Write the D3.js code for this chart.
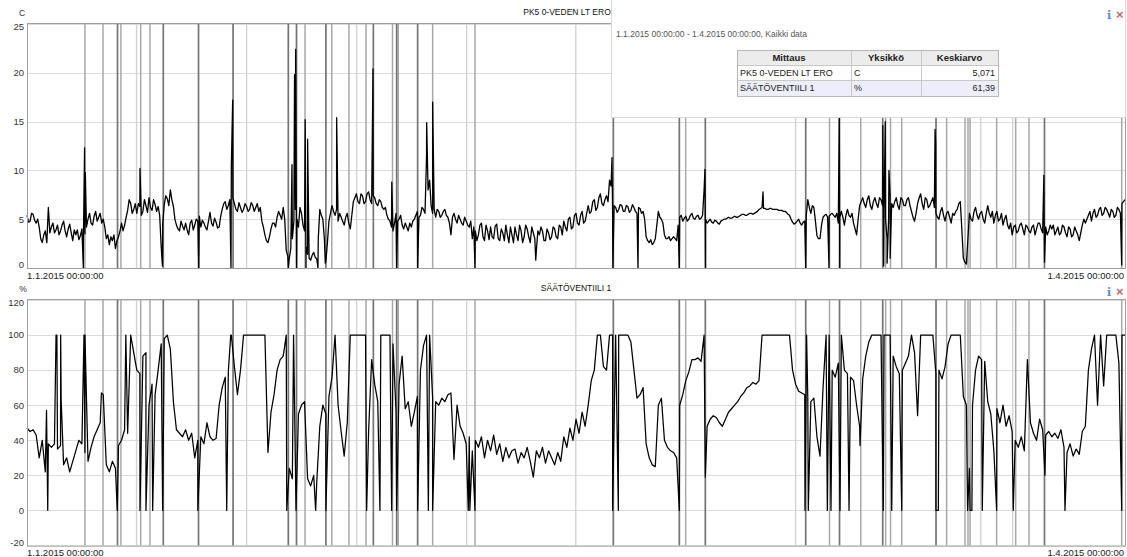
<!DOCTYPE html>
<html><head><meta charset="utf-8">
<script src="https://cdn.jsdelivr.net/npm/d3@7"></script>
<style>body{margin:0;background:#fff;} svg{display:block;font-family:Arial,"Liberation Sans",sans-serif;}</style>
</head><body><svg id="c" width="1127" height="557"></svg>
<script>
// ---------- DATA ----------
const stepDays = 0.25; // samples every 6 hours starting 1.1.2015 00:00
const tempValues = [
5.4,4.8,5.5,4.6, 4.2,2.6,3.8,6.2, 4.2,3.6,4.4,3.8, 4.8,3.2,4.5,2.8, 3.4,2.9,4.0,3.5,
5.0,4.6,5.3,4.8, 5.6,5.0,3.0,2.4, 2.8,2.0,3.2,4.6, 4.4,5.9,6.6,6.0, 5.6,6.3,5.8,6.4,
7.2,5.9,6.5,6.3, 2.2,6.5,7.1,8.0, 6.3,4.4,3.8,4.3, 4.6,3.4,4.9,4.4, 4.8,4.2,4.6,3.9,
5.7,4.3,4.7,4.2, 6.0,6.8,6.4,10.5, 6.6,5.8,6.2,6.0, 6.3,6.0,6.4,6.2, 5.8,4.8,3.4,2.6,
4.0,4.6,5.2,5.4, 6.2,1.8,1.0,3.0, 6.0,4.2,5.6,3.8, 1.4,0.8,1.6,0.9, 6.0,5.0,0.7,4.8,
6.4,5.4,4.8,5.2, 4.4,5.6,4.0,6.8, 7.6,6.6,7.4,6.8, 7.8,6.6,7.2,6.4, 6.8,6.0,5.4,4.8,
3.8,5.6,5.0,4.4, 4.6,3.8,4.2,5.0, 5.8,5.4,6.0,11.5, 9.0,5.6,5.2,5.8, 5.4,6.0,5.2,3.4,
5.6,4.6,5.0,4.4, 4.8,4.2,3.0,3.8, 3.4,4.6,2.8,3.8, 4.2,3.0,4.5,2.8, 3.6,4.4,2.6,3.4,
4.2,2.8,3.8,3.2, 4.0,2.6,3.6,1.8, 3.4,3.8,2.8,3.6, 3.2,4.0,3.0,4.2, 4.8,3.8,5.2,4.2,
5.6,4.4,5.8,4.8, 6.4,5.8,7.0,6.2, 7.6,6.4,7.4,9.0, 5.6,6.2,6.0,6.4, 5.8,6.3,5.9,6.2,
5.6,6.1,5.8,3.2, 2.6,2.4,3.0,5.8, 5.0,3.4,3.0,2.8, 3.2,2.8,5.2,4.8, 5.3,5.0,5.6,5.0,
5.4,5.1,8.0,4.6, 5.0,4.6,4.8,4.5, 4.9,5.0,5.2,5.1, 5.3,5.2,5.4,5.5, 5.4,5.6,5.5,5.7,
6.0,6.2,6.1,6.0, 6.1,6.0,6.0,5.9, 5.8,5.7,5.4,4.7, 4.6,5.0,4.4,4.8, 7.0,5.6,6.2,3.3,
3.0,5.2,5.5,5.3, 5.6,5.2,4.6,5.8, 4.4,6.0,5.2,4.6, 3.4,6.4,7.2,6.2, 7.4,6.0,7.2,6.2,
7.0,6.0,3.0,7.4, 6.2,7.2,6.0,7.0, 6.4,7.2,5.8,4.8, 6.6,7.6,6.0,7.0, 6.4,7.2,5.6,5.0,
6.2,4.8,5.8,4.6, 5.4,6.0,6.8,1.0, 0.4,5.6,4.8,6.2, 5.0,5.8,4.6,6.4, 5.2,4.6,5.8,5.0,
4.4,5.4,4.0,3.4, 4.4,3.8,4.6,3.4, 4.2,3.6,4.4,4.0, 4.6,3.6,4.2,3.8, 4.0,3.4,4.2,3.6,
4.2,3.2,4.0,3.4, 3.8,2.8,4.4,4.6, 5.4,4.8,6.0,5.4, 6.2,5.6,6.0,5.2, 5.8,5.4,6.0,6.6,
7.0];
// readings half-way between the 6-hour samples above (at +3 h)
const tempValuesMid = [
4.7,5.6,4.9,5.0, 3.0,3.4,2.6,3.6, 4.6,3.9,3.4,4.4, 3.8,4.0,3.6,3.9, 3.9,3.3,3.0,4.2,
5.6,4.4,5.8,5.2, 4.6,4.2,3.4,3.2, 3.4,2.8,3.8,3.8, 5.2,7.0,5.6,6.6, 6.6,5.4,7.0,5.7,
6.2,7.0,5.8,5.4, 4.5,7.4,6.4,7.0, 5.0,4.0,4.8,3.9, 3.9,4.6,3.9,5.0, 5.3,4.9,4.2,4.8,
4.6,5.1,4.1,5.3, 6.6,6.0,7.0,7.2, 6.0,6.7,5.7,6.6, 5.8,6.7,5.8,6.6, 6.2,4.2,2.8,3.2,
4.6,4.2,5.8,5.0, 5.0,1.2,2.0,4.8, 5.0,6.2,4.4,2.2, 1.0,1.3,1.1,3.0, 5.4,3.0,2.6,5.6,
5.8,6.0,5.6,4.8, 5.2,4.6,5.4,7.2, 6.8,7.6,6.6,7.6, 7.0,7.4,6.6,7.0, 6.2,6.2,5.0,4.2,
4.6,4.8,5.4,4.0, 4.2,4.6,4.8,5.4, 5.2,6.2,5.6,8.0, 6.4,6.0,6.0,5.2, 5.8,5.4,4.6,5.2,
5.0,5.4,4.6,5.2, 4.4,4.8,4.2,2.8, 4.4,3.2,4.4,2.9, 3.2,4.3,3.0,4.0, 2.8,3.4,4.2,2.6,
3.4,4.4,2.6,4.4, 3.2,4.2,3.0,3.8, 4.2,2.8,4.0,2.9, 4.2,3.2,4.4,3.4, 4.2,5.0,4.0,5.4,
4.6,5.4,4.6,5.6, 5.6,6.8,5.9,7.2, 6.6,7.0,6.8,8.4, 6.4,5.7,6.5,5.8, 6.4,5.7,6.5,5.8,
6.2,5.6,5.0,2.8, 2.9,2.6,4.4,5.2, 4.6,3.0,3.2,3.0, 3.0,4.4,5.4,5.1, 4.8,5.4,5.1,5.3,
5.0,5.4,5.0,4.8, 4.7,4.9,4.6,4.8, 5.0,5.1,5.1,5.2, 5.2,5.3,5.5,5.4, 5.5,5.6,5.6,5.8,
6.1,6.1,6.0,6.1, 6.0,6.0,5.9,5.9, 5.8,5.5,5.0,4.5, 4.8,4.6,4.7,5.4, 6.2,6.4,4.8,3.0,
4.4,5.4,5.2,5.5, 5.4,5.6,5.2,5.2, 5.4,5.4,5.6,4.0, 5.0,6.8,6.6,7.0, 6.4,6.8,6.6,7.2,
6.4,5.0,5.0,6.6, 6.8,6.4,7.2,6.4, 7.0,6.4,5.2,5.6, 7.2,6.6,7.2,6.2, 6.8,6.2,5.2,5.8,
5.4,5.6,5.2,5.6, 5.8,6.6,4.0,0.6, 3.0,5.0,5.8,5.4, 5.6,5.0,5.6,5.6, 5.8,5.4,4.8,5.6,
5.0,4.4,4.6,4.2, 3.6,4.4,4.0,4.4, 3.8,4.2,3.4,4.6, 4.0,4.4,3.4,4.4, 4.4,3.8,3.4,4.4,
3.6,4.2,3.2,4.2, 3.4,3.6,5.0,5.0, 5.8,5.6,5.2,6.0, 5.4,6.2,5.6,6.0, 5.2,6.2,5.6,6.8];
const tempSpikeDays = [4.62,4.72,4.78,9.26,11.1,14.08,16.72,16.86,21.42,21.72,21.93,22.02,22.1,
22.8,22.87,23.0,23.85,24.45,25.38,28.36,29.9,30.3,32.02,32.76,33.25,36.72,41.7,47.95,48.02,
50.08,53.47,55.57,55.62,60.33,63.83,65.74,66.58,66.62,70.15,70.22,70.35,70.5,70.65,70.75,
74.43,74.48,83.35,83.4,89.73];
const tempSpikeValues = [0,12.3,9.8,10.2,0.2,0,0,17.2,0,10.6,19.8,22.4,0,
15.2,0,13.2,0,0.5,15.4,20.4,8.8,0,0,14.9,17,0,0.8,11.3,0,
0,0,10.1,0,7.8,0,0,15.5,0,14.6,0.2,15.0,0.5,10,1,
14.2,12.8,9.5,0.6,0.3];

const valveValues = [
47,45,46,43, 30,40,22,38, 36,38,35,37, 26,30,22,28, 34,40,38,33,
28,36,42,46, 50,66,26,22, 28,24,37,40, 46,44,100,90, 80,78,88,90,
60,72,66,80, 95,98,100,92, 62,46,44,42, 46,40,44,30, 40,42,38,50,
42,40,41,60, 70,76,79,100, 82,66,80,100, 100,100,100,100, 100,100,100,33,
56,66,80,86, 88,100,24,18, 26,55,60,62, 18,14,20,16, 48,60,55,65,
76,100,60,45, 31,50,100,100, 100,100,100,100, 45,86,72,62, 100,100,100,100,
95,56,72,88, 58,62,48,56, 65,80,94,100, 100,64,62,60, 64,62,66,67,
29,60,48,44, 38,42,34,40, 36,42,30,40, 34,43,32,38, 28,36,30,34,
35,27,33,30, 36,28,19,34, 30,36,27,34, 30,26,33,28, 42,36,47,40,
52,44,56,48, 60,74,80,100, 100,82,80,100, 100,100,100,100, 100,100,96,80,
64,66,70,38, 30,26,25,60, 64,40,36,34, 33,30,60,66, 74,79,86,86,
87,85,100,48, 52,54,53,50, 48,52,56,58, 60,62,65,67, 70,71,73,72,
74,100,100,100, 100,100,100,100, 100,100,100,80, 72,68,67,66, 64,62,64,42,
31,70,100,100, 80,76,84,100, 80,78,76,74, 60,48,75,88, 96,100,100,100,
100,100,100,100, 88,82,78,80, 84,88,100,90, 54,100,100,100, 100,100,78,80,
75,82,95,100, 100,100,100,65, 60,24,60,80, 88,86,85,62, 55,34,58,50,
60,48,54,45, 40,36,42,34, 86,50,44,40, 52,46,43,45, 42,44,41,46,
36,33,38,31, 35,32,45,48, 80,92,100,60, 100,71,100,100, 100,100,84,100,
100];
const valveSpikeDays = [1.6,1.7,2.38,2.45,2.76,2.8,4.67,4.75,6.1,7.4,8.1,9.26,9.75,10.3,11.12,14.0,
16.37,16.7,21.29,21.85,22.05,23.66,24.5,25.25,27.84,28.93,29.89,30.3,32.02,32.9,33.25,
36.17,36.3,36.72,48.0,48.47,53.47,55.6,63.77,63.9,64.04,65.6,65.9,66.64,67.38,68.28,
70.19,70.88,71.7,74.5,74.7,77.1,77.3,77.45,78.3,79.48,80.84,83.44,85.08,89.73];
const valveSpikeValues = [57,0,100,100,100,63,100,100,67,0,100,0,0,0,0,0,
0,100,0,100,0,0,0,100,0,0,0,0,0,0,0,
0,0,0,0,0,0,19,0,100,0,0,0,0,0,37,
0,0,0,0,0,0,0,0,0,0,0,20,0,0];

// event markers (days since 1.1.2015), grouped by shade category
const markerDaysDark = [7.42,11.17,14.06,16.89,21.42,22.09,24.5,28.39,30.3,32.02,48.06,53.47,55.6,63.83,66.6,70.14,74.51,83.4];
const markerDaysMid = [4.75,6.23,7.7,9.32,10.08,22.79,24.98,26.39,27.79,29.96,30.43,33.25,36.72,53.99,65.78,68.34,70.38,70.78,71.7,75.38,76.89,77.13,77.3,79.48,81.04,82.13,89.73];
const markerDaysLight = [8.98,18.0,27.02,36.04,44.98,63.0,78.17,80.79];

const tempTicks = [0,5,10,15,20,25];
const valveTicks = [-20,0,20,40,60,80,100,120];
const startLabel = "1.1.2015 00:00:00";
const endLabel = "1.4.2015 00:00:00";
const infoText = "1.1.2015 00:00:00 - 1.4.2015 00:00:00, Kaikki data";
const tableHeader = ["Mittaus","Yksikkö","Keskiarvo"];
const tableRows = [["PK5 0-VEDEN LT ERO","C","5,071"],["SÄÄTÖVENTIILI 1","%","61,39"]];

// ---------- RENDER ----------
const svg = d3.select("#c");
const t0 = Date.UTC(2015,0,1);
const toDate = d => new Date(t0 + d*864e5);
const L = 27, R = 1125;
const x = d3.scaleUtc().domain([new Date(t0), new Date(Date.UTC(2015,3,1))]).range([L, R]);

function buildSeries(vals, midVals, sDays, sVals){
  const pts = vals.map((v,i)=>({d:i*stepDays, v}));
  (midVals||[]).forEach((v,i)=>pts.push({d:i*stepDays+stepDays/2, v}));
  sDays.forEach((d,i)=>pts.push({d, v:sVals[i]}));
  pts.sort((a,b)=>a.d-b.d);
  return pts;
}

function drawPanel(cfg){
  const g = svg.append("g");
  const y = d3.scaleLinear().domain(cfg.domain).range([cfg.bottom, cfg.top]);
  g.append("g").selectAll("line").data(cfg.ticks).join("line")
    .attr("x1", L).attr("x2", R).attr("y1", d=>Math.round(y(d))+0.5).attr("y2", d=>Math.round(y(d))+0.5)
    .attr("stroke", "#dcdcdc").attr("stroke-width", 1.2);
  const mk = (arr, col, w) => g.append("g").selectAll("line").data(arr).join("line")
    .attr("x1", d=>x(toDate(d))).attr("x2", d=>x(toDate(d)))
    .attr("y1", cfg.top).attr("y2", cfg.bottom)
    .attr("stroke", col).attr("stroke-width", w);
  mk(markerDaysLight, "#d2d2d2", 1.4);
  mk(markerDaysMid, "#a8a8a8", 1.5);
  mk(markerDaysDark, "#747474", 1.7);
  const pts = buildSeries(cfg.values, cfg.midValues, cfg.spikeDays, cfg.spikeValues);
  const line = d3.line().x(p=>x(toDate(p.d))).y(p=>y(p.v));
  g.append("path").datum(pts).attr("d", line).attr("fill","none")
    .attr("stroke","#000").attr("stroke-width",cfg.lw).attr("stroke-linejoin","round");
  g.append("rect").attr("x", L+0.5).attr("y", cfg.top-0.5).attr("width", R-L).attr("height", cfg.bottom-cfg.top+1)
    .attr("fill","none").attr("stroke","#a0a0a0");
  g.append("g").selectAll("text").data(cfg.ticks).join("text")
    .attr("x", 24).attr("y", d=>Math.min(Math.max(y(d), cfg.top+3), cfg.bottom-3))
    .attr("dy","0.35em").attr("text-anchor","end").attr("font-size","9.5px").attr("fill","#333")
    .text(d=>d);
  g.append("text").attr("x", cfg.unitX).attr("y", cfg.top-8).attr("font-size","8.5px").attr("fill","#333")
    .attr("text-anchor","middle").text(cfg.unit);
  g.append("text").attr("x", L).attr("y", cfg.bottom+10.5).attr("font-size","9.5px").attr("fill","#222").text(startLabel);
  g.append("text").attr("x", R-1).attr("y", cfg.bottom+10.5).attr("font-size","9.5px").attr("fill","#222")
    .attr("text-anchor","end").text(endLabel);
  return g;
}

drawPanel({top:24, bottom:268, domain:[0,25], ticks:tempTicks, values:tempValues, midValues:tempValuesMid,
  spikeDays:tempSpikeDays, spikeValues:tempSpikeValues, unit:"C", unitX:22, lw:1.3});

// info overlay box over top panel
const ov = svg.append("g");
ov.append("rect").attr("x", 611.5).attr("y", -2).attr("width", R-611).attr("height", 119.5)
  .attr("fill","#fff").attr("stroke","#d8d8d8");
ov.append("text").attr("x", 616).attr("y", 37).attr("font-size","8.5px").attr("fill","#555").text(infoText);
const colX = [737, 851, 921, 998];
const rowY = [50, 65, 80, 96];
const rowFill = ["#ececec", "#ffffff", "#eeeefb"];
[0,1,2].forEach(r=>{
  ov.append("rect").attr("x", colX[0]).attr("y", rowY[r]).attr("width", colX[3]-colX[0]).attr("height", rowY[r+1]-rowY[r])
    .attr("fill", rowFill[r]);
});
[0,1,2].forEach(r=>[0,1,2].forEach(c=>{
  ov.append("rect").attr("x", colX[c]+0.5).attr("y", rowY[r]+0.5).attr("width", colX[c+1]-colX[c]).attr("height", rowY[r+1]-rowY[r])
    .attr("fill","none").attr("stroke","#c8c8c8");
}));
ov.append("rect").attr("x", colX[0]+0.5).attr("y", rowY[0]+0.5).attr("width", colX[3]-colX[0]).attr("height", rowY[3]-rowY[0])
  .attr("fill","none").attr("stroke","#b8b8b8");
tableHeader.forEach((h,c)=>{
  ov.append("text").attr("x",(colX[c]+colX[c+1])/2 - (c===0?5:0)).attr("y", rowY[0]+11).attr("text-anchor","middle")
    .attr("font-size","9.5px").attr("font-weight","bold").attr("fill","#222").text(h);
});
tableRows.forEach((row,r)=>{
  row.forEach((v,c)=>{
    const anchorEnd = c===2;
    ov.append("text").attr("x", anchorEnd ? colX[c+1]-3 : colX[c]+3).attr("y", rowY[r+1]+11)
      .attr("text-anchor", anchorEnd ? "end" : "start").attr("font-size","9px").attr("fill","#222").text(v);
  });
});

drawPanel({top:300, bottom:545.5, domain:[-20,120], ticks:valveTicks, values:valveValues, midValues:null,
  spikeDays:valveSpikeDays, spikeValues:valveSpikeValues, unit:"%", unitX:23, lw:1.25});

// titles
svg.append("text").attr("x", 567).attr("y", 15).attr("font-size","8.5px").attr("fill","#111")
  .attr("text-anchor","middle").text("PK5 0-VEDEN LT ERO");
svg.append("text").attr("x", 576).attr("y", 291).attr("font-size","8.5px").attr("fill","#111")
  .attr("text-anchor","middle").text("SÄÄTÖVENTIILI 1");

// icons
[17, 294].forEach(yy=>{
  svg.append("text").attr("x",1107).attr("y",yy+2).attr("font-family","DejaVu Serif, serif").attr("font-size","11px")
    .attr("font-weight","bold").attr("fill","#5a8cc0").text("i");
  svg.append("text").attr("x",1116).attr("y",yy+2).attr("font-size","13px").attr("font-weight","bold")
    .attr("fill","#c86a6a").text("×");
});
</script>
</body></html>
